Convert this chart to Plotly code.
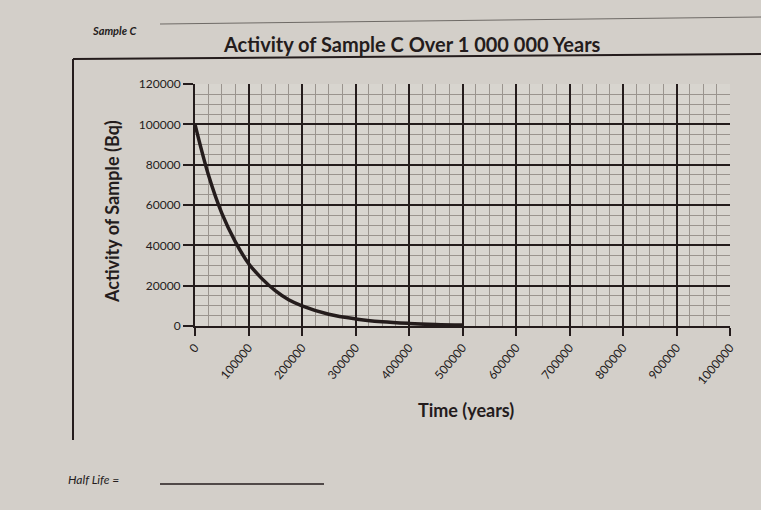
import plotly.graph_objects as go

# Data
time_years = [0, 25000, 50000, 75000, 100000, 125000, 150000, 175000,
              200000, 250000, 300000, 350000, 400000, 450000, 500000]
activity_bq = [100000, 75000, 56000, 42000, 31000, 23500, 17500, 13000,
               10000, 5800, 3500, 2100, 1300, 800, 500]

x_ticks = [0, 100000, 200000, 300000, 400000, 500000, 600000, 700000,
           800000, 900000, 1000000]
y_ticks = [0, 20000, 40000, 60000, 80000, 100000, 120000]

W, H = 761, 510
ML, MR, MT, MB = 195, 31, 84, 184
PW, PH = W - ML - MR, H - MT - MB


def fx(px):
    return (px - ML) / PW


def fy(py):
    return (H - MB - py) / PH


FONT = "Comic Sans MS, Lato, DejaVu Sans, sans-serif"
INK = "#241c1c"
PAPER = "#d3cfc9"

fig = go.Figure()
fig.add_trace(go.Scatter(
    x=time_years, y=activity_bq, mode="lines",
    line=dict(color=INK, width=3.5, shape="spline", smoothing=1.0),
    hoverinfo="x+y", showlegend=False,
))

fig.update_layout(
    width=W, height=H,
    margin=dict(l=ML, r=MR, t=MT, b=MB),
    paper_bgcolor=PAPER,
    plot_bgcolor="#d8d5cf",
    font=dict(family=FONT, color=INK),
    showlegend=False,
    xaxis=dict(
        range=[0, 1000000], tickvals=x_ticks,
        ticktext=[str(v) for v in x_ticks],
        tickangle=-50, tickfont=dict(size=12, family=FONT, color=INK),
        showgrid=True, gridcolor=INK, gridwidth=2,
        showline=True, linecolor=INK, linewidth=2,
        ticks="outside", ticklen=8, tickcolor=INK, tickwidth=2,
        zeroline=False,
        minor=dict(dtick=25000, showgrid=True, gridcolor="#9a948e", gridwidth=1),
    ),
    yaxis=dict(
        range=[0, 120000], tickvals=y_ticks,
        ticktext=[str(v) for v in y_ticks],
        tickfont=dict(size=12, family=FONT, color=INK),
        showgrid=True, gridcolor=INK, gridwidth=2,
        showline=True, linecolor=INK, linewidth=2,
        ticks="outside", ticklen=10, tickcolor=INK, tickwidth=2,
        zeroline=False,
        minor=dict(dtick=5000, showgrid=True, gridcolor="#9a948e", gridwidth=1),
    ),
)

annotations = [
    dict(text="<b>Activity of Sample C Over 1 000 000 Years</b>",
         x=fx(412), y=fy(44), font=dict(size=20, family=FONT, color=INK)),
    dict(text="<b>Activity of Sample (Bq)</b>", textangle=-90,
         x=fx(112), y=fy(212), font=dict(size=18, family=FONT, color=INK)),
    dict(text="<b>Time (years)</b>",
         x=fx(466), y=fy(410), font=dict(size=18, family=FONT, color=INK)),
    dict(text="<b><i>Sample C</i></b>", xanchor="left",
         x=fx(90), y=fy(31), font=dict(size=11, family=FONT, color=INK)),
    dict(text="<i>Half Life =</i> ", xanchor="left",
         x=fx(66), y=fy(479), font=dict(size=12, family=FONT, color=INK)),
]
for a in annotations:
    a.setdefault("xanchor", "center")
    a.update(xref="paper", yref="paper", yanchor="middle", showarrow=False)
fig.update_layout(annotations=annotations)

shapes = [
    # chart-area border (left and top)
    dict(type="line", x0=fx(73), x1=fx(73), y0=fy(59), y1=fy(440),
         line=dict(color=INK, width=2)),
    dict(type="line", x0=fx(73), x1=fx(761), y0=fy(59), y1=fy(54),
         line=dict(color=INK, width=2)),
    # page rule at top
    dict(type="line", x0=fx(160), x1=fx(761), y0=fy(24), y1=fy(17),
         line=dict(color="#6e6a66", width=1)),
    # answer line
    dict(type="line", x0=fx(160), x1=fx(324), y0=fy(484), y1=fy(484),
         line=dict(color=INK, width=1.5)),
]
for s in shapes:
    s.update(xref="paper", yref="paper")
fig.update_layout(shapes=shapes)

fig.write_html("out.html",
               config={"displayModeBar": False},
               post_script="document.body.style.margin='0';")
